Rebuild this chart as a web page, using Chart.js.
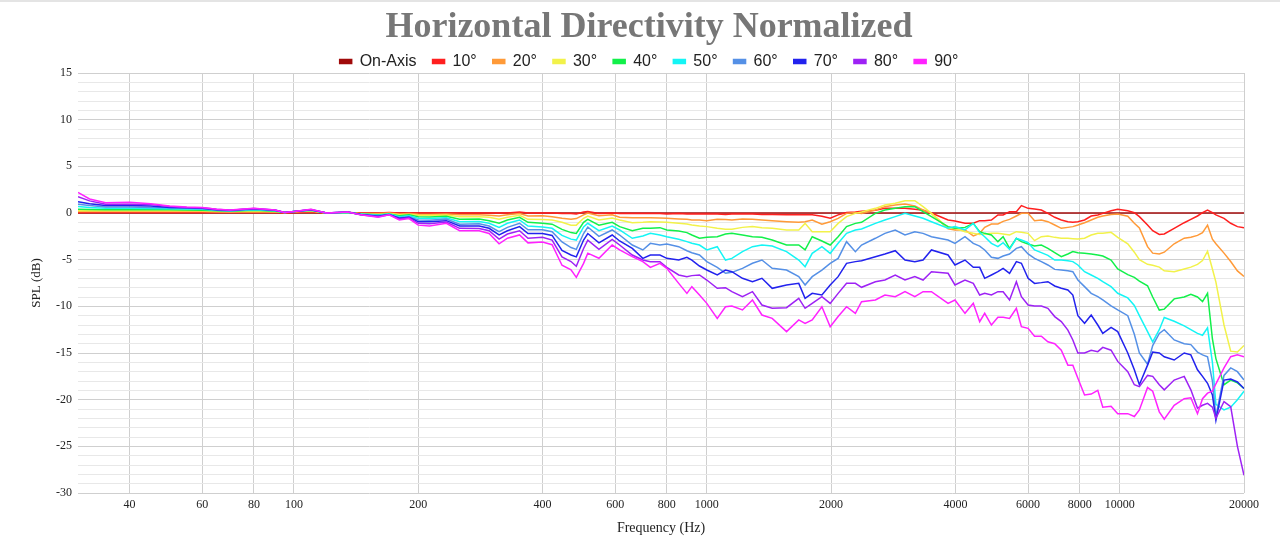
<!DOCTYPE html>
<html><head><meta charset="utf-8">
<script src="https://cdn.jsdelivr.net/npm/chart.js@4.4.1/dist/chart.umd.min.js"></script>
<style>
html,body{margin:0;padding:0;background:#fff;}
#wrap{position:relative;width:1280px;height:550px;}
#topline{position:absolute;left:0;top:0;width:1280px;height:2px;background:#e4e4e4;}
canvas{position:absolute;left:0;top:0;}
</style></head><body>
<div id="wrap"><canvas id="c" width="1280" height="550"></canvas><div id="topline"></div></div>
<script>
const freq = [
30,32,35,40,45,50,55,60,65,70,
80,90,95,100,110,120,135,145,160,170,
180,190,200,213,234,252,281,297,314,329,
352,369,400,422,446,469,483,503,515,548,
590,615,660,700,730,770,800,855,895,920,
960,1000,1060,1110,1150,1220,1290,1360,1440,1560,
1670,1730,1800,1900,1990,2080,2180,2290,2370,2560,
2700,2860,3020,3190,3340,3500,3840,3990,4220,4420,
4580,4710,4890,5070,5220,5410,5620,5780,6000,6220,
6460,6700,6960,7220,7490,7700,7920,8220,8530,8850,
9100,9530,9890,10460,10850,11160,11680,12020,12470,12820,
13550,14330,14870,15430,15870,16320,16770,17100,17890,18570,
19280,20000];

const onAxis = [
0,0,0,0,0,0,0,0,0,0, 0,0,0,0,0,0,0,0,0,0, 0,0,0,0,0,0,0,0,0,0,
0,0,0,0,0,0,0,0,0,0, 0,0,0,0,0,0,0,0,0,0, 0,0,0,0,0,0,0,0,0,0,
0,0,0,0,0,0,0,0,0,0, 0,0,0,0,0,0,0,0,0,0, 0,0,0,0,0,0,0,0,0,0,
0,0,0,0,0,0,0,0,0,0, 0,0,0,0,0,0,0,0,0,0, 0,0,0,0,0,0,0,0,0,0,
0,0];

const deg10 = [
0.05,0.05,0.05,0.05,0.05,0.05,0.05,0.05,0.05,0.05,
0.05,0.05,0.0,0.05,0.1,0.0,0.05,0.0,0.0,0.05,
0.0,0.0,0.0,0.0,0.0,0.0,0.0,0.0,0.0,0.0,
0.1,0.0,0.0,0.0,-0.05,-0.05,-0.1,0.1,0.15,-0.05,
0.0,-0.05,-0.05,-0.05,-0.05,-0.05,-0.1,-0.05,-0.1,-0.1,
-0.1,-0.1,-0.1,-0.15,-0.1,-0.1,-0.1,-0.15,-0.15,-0.2,
-0.2,-0.2,-0.2,-0.35,-0.55,-0.2,0.05,0.1,0.2,0.3,
0.5,0.5,0.5,0.4,0.3,0.0,-0.75,-0.86,-1.1,-1.1,
-0.82,-0.82,-0.75,-0.21,-0.21,0.14,0.14,0.79,0.5,0.43,
0.32,-0.04,-0.46,-0.75,-0.93,-1.0,-0.93,-0.75,-0.32,-0.21,
-0.04,0.25,0.39,0.25,0.04,-0.39,-1.29,-1.89,-2.29,-2.25,
-1.64,-1.04,-0.68,-0.32,0.04,0.32,0.04,-0.2,-0.57,-1.1,
-1.46,-1.57];

const deg20 = [
0.15,0.15,0.15,0.15,0.15,0.15,0.15,0.15,0.1,0.1,
0.15,0.1,0.05,0.1,0.2,0.0,0.05,-0.05,-0.05,0.0,
-0.1,-0.05,-0.14,-0.15,-0.1,-0.2,-0.2,-0.25,-0.32,-0.2,
-0.05,-0.32,-0.3,-0.4,-0.57,-0.68,-0.6,-0.2,0.0,-0.3,
-0.2,-0.46,-0.5,-0.5,-0.5,-0.54,-0.57,-0.64,-0.68,-0.75,
-0.75,-0.82,-0.68,-0.7,-0.75,-0.64,-0.68,-0.75,-0.82,-0.93,
-1.0,-0.93,-0.75,-1.21,-0.93,-0.57,-0.04,0.04,-0.04,0.32,
0.68,0.86,0.96,0.75,0.32,-0.04,-1.7,-1.82,-1.82,-2.46,
-2.18,-1.54,-1.18,-1.18,-0.9,-0.68,-0.32,-0.04,-0.04,-0.82,
-0.75,-0.93,-1.29,-1.64,-1.54,-1.46,-1.29,-1.04,-0.75,-0.46,
-0.32,-0.15,-0.11,-0.35,-1.1,-1.6,-3.6,-4.3,-4.4,-4.2,
-3.3,-2.7,-2.6,-2.4,-2.1,-1.3,-2.8,-3.3,-4.3,-5.2,
-6.2,-6.8];

const deg30 = [
0.25,0.25,0.25,0.25,0.25,0.25,0.25,0.25,0.2,0.15,
0.2,0.15,0.05,0.15,0.25,0.0,0.05,-0.1,-0.15,-0.05,
-0.2,-0.15,-0.25,-0.25,-0.22,-0.4,-0.4,-0.46,-0.68,-0.45,
-0.25,-0.68,-0.7,-0.75,-1.0,-1.3,-1.3,-0.57,-0.32,-0.75,
-0.54,-0.75,-1.04,-1.0,-0.93,-0.96,-1.0,-1.11,-1.18,-1.29,
-1.39,-1.46,-1.64,-1.75,-1.75,-1.54,-1.46,-1.57,-1.64,-1.82,
-1.82,-1.11,-2.0,-2.0,-2.0,-1.11,-0.39,-0.04,0.11,0.5,
0.86,1.04,1.32,1.32,0.68,-0.04,-1.6,-1.64,-2.0,-2.18,
-2.29,-2.25,-2.18,-2.18,-2.25,-2.36,-2.0,-2.07,-2.18,-2.96,
-2.54,-2.46,-2.61,-2.71,-2.71,-2.75,-2.79,-2.71,-2.36,-2.18,
-2.18,-2.07,-2.6,-3.3,-4.2,-5.0,-5.5,-5.6,-5.8,-6.2,
-6.3,-6.0,-5.8,-5.5,-5.1,-4.1,-6.0,-7.4,-12.0,-14.8,
-14.9,-14.2];

const deg40 = [
0.4,0.38,0.36,0.35,0.35,0.35,0.33,0.3,0.25,0.2,
0.3,0.2,0.05,0.15,0.3,0.0,0.05,-0.1,-0.2,-0.1,
-0.3,-0.2,-0.4,-0.42,-0.35,-0.68,-0.65,-0.82,-1.1,-0.75,
-0.46,-1.0,-1.1,-1.2,-1.75,-2.1,-2.2,-1.0,-0.68,-1.3,
-1.0,-1.46,-1.89,-1.64,-1.64,-1.57,-1.82,-1.93,-2.1,-2.36,
-2.71,-2.61,-2.54,-2.25,-2.18,-2.36,-2.54,-2.61,-2.89,-3.43,
-3.43,-3.96,-2.54,-3.0,-3.43,-2.54,-1.46,-1.11,-1.0,-0.04,
0.32,0.5,0.68,0.68,0.14,-0.39,-1.46,-1.64,-1.54,-1.11,
-2.0,-2.18,-2.36,-3.07,-2.54,-3.79,-2.71,-3.07,-3.32,-3.54,
-3.43,-3.79,-4.25,-4.68,-4.39,-4.14,-4.25,-4.32,-4.39,-4.5,
-4.61,-5.04,-6.0,-6.6,-6.9,-7.3,-7.8,-9.0,-10.4,-10.3,
-9.2,-9.0,-8.7,-9.0,-9.5,-8.6,-13.5,-15.6,-18.4,-17.9,
-18.2,-18.8];

const deg50 = [
0.7,0.6,0.5,0.5,0.48,0.45,0.42,0.4,0.3,0.25,
0.35,0.25,0.05,0.15,0.3,0.0,0.05,-0.12,-0.25,-0.12,
-0.4,-0.3,-0.57,-0.6,-0.5,-0.93,-0.9,-1.1,-1.54,-1.1,
-0.75,-1.4,-1.5,-1.64,-2.4,-2.8,-2.9,-1.5,-1.1,-1.9,
-1.39,-1.82,-2.71,-2.46,-2.18,-2.36,-2.54,-2.82,-3.07,-3.25,
-3.43,-3.96,-3.61,-5.04,-4.86,-4.14,-3.61,-3.43,-3.54,-4.14,
-5.04,-5.75,-4.32,-3.61,-4.32,-3.25,-2.18,-1.82,-1.71,-1.11,
-0.75,-0.39,-0.04,-0.32,-0.57,-0.93,-1.64,-1.46,-1.8,-1.11,
-2.1,-2.54,-3.25,-3.61,-3.18,-3.89,-2.71,-2.89,-3.18,-3.96,
-4.25,-4.54,-5.04,-5.04,-5.11,-5.21,-5.57,-6.29,-6.64,-7.0,
-7.36,-7.89,-8.6,-9.1,-9.9,-11.0,-12.7,-13.8,-12.5,-11.2,
-11.6,-12.1,-12.5,-12.9,-13.1,-12.3,-16.0,-20.5,-21.1,-20.8,
-20.0,-19.1];

const deg60 = [
0.95,0.8,0.64,0.65,0.6,0.55,0.5,0.45,0.3,0.25,
0.4,0.3,0.05,0.15,0.35,0.0,0.1,-0.15,-0.3,-0.15,
-0.5,-0.4,-0.75,-0.78,-0.65,-1.2,-1.15,-1.4,-2.0,-1.54,
-1.1,-1.8,-1.8,-2.0,-3.1,-3.7,-3.9,-2.2,-1.5,-2.5,
-1.82,-2.36,-3.43,-3.96,-3.25,-3.43,-3.32,-3.61,-4.04,-4.25,
-4.5,-5.21,-5.82,-6.46,-6.36,-5.93,-5.39,-5.04,-5.93,-6.11,
-6.82,-7.71,-6.82,-6.11,-5.39,-4.86,-3.07,-4.14,-3.43,-2.71,
-2.18,-1.82,-2.36,-2.0,-2.18,-2.54,-2.89,-3.25,-2.54,-3.25,
-3.54,-3.96,-4.75,-4.86,-4.61,-4.39,-3.79,-3.61,-4.39,-4.86,
-5.21,-5.57,-6.04,-6.11,-6.18,-6.29,-7.18,-7.89,-8.61,-8.96,
-9.32,-9.96,-10.39,-11.0,-13.0,-15.0,-16.2,-14.2,-12.9,-12.5,
-13.6,-14.0,-14.1,-14.9,-15.2,-15.4,-18.0,-21.8,-17.4,-16.6,
-17.0,-17.9];

const deg70 = [
1.2,1.0,0.8,0.8,0.75,0.6,0.55,0.5,0.35,0.3,
0.45,0.3,0.05,0.15,0.35,0.0,0.1,-0.15,-0.35,-0.15,
-0.55,-0.45,-0.93,-0.95,-0.82,-1.4,-1.4,-1.64,-2.35,-1.9,
-1.46,-2.2,-2.2,-2.4,-4.0,-4.5,-4.7,-2.9,-2.2,-3.2,
-2.36,-3.0,-3.79,-4.86,-4.5,-4.5,-4.86,-5.04,-4.75,-5.04,
-5.68,-6.11,-6.64,-6.11,-6.29,-7.0,-7.36,-7.0,-8.07,-7.71,
-7.54,-9.14,-8.61,-8.79,-7.71,-6.82,-5.39,-5.21,-5.11,-4.68,
-4.39,-4.04,-5.04,-5.21,-5.04,-3.96,-4.5,-5.57,-5.04,-5.82,
-5.82,-7.0,-6.64,-6.29,-5.93,-6.46,-5.21,-5.39,-7.0,-7.54,
-7.46,-7.36,-7.82,-8.07,-8.25,-8.79,-11.0,-11.82,-10.93,-12.0,
-12.89,-12.25,-12.71,-15.0,-16.8,-18.4,-16.3,-14.9,-15.0,-15.4,
-15.75,-15.0,-15.2,-16.8,-17.5,-18.25,-19.5,-22.2,-17.9,-17.8,
-18.1,-18.8];

const deg80 = [
1.75,1.3,0.93,0.95,0.9,0.7,0.6,0.55,0.4,0.3,
0.48,0.32,0.05,0.15,0.38,0.0,0.1,-0.18,-0.4,-0.18,
-0.65,-0.5,-1.1,-1.15,-0.96,-1.64,-1.65,-1.9,-2.8,-2.25,
-1.9,-2.7,-2.6,-2.9,-4.7,-5.2,-5.7,-3.8,-2.9,-3.9,
-2.82,-3.43,-4.5,-5.04,-5.21,-5.21,-5.82,-6.64,-6.82,-6.71,
-6.64,-7.18,-8.07,-8.0,-8.43,-8.96,-8.43,-9.86,-10.21,-10.14,
-9.14,-10.21,-9.68,-8.96,-9.68,-8.61,-7.54,-7.54,-7.96,-7.36,
-7.18,-6.64,-7.18,-6.82,-7.18,-6.29,-6.46,-7.71,-7.18,-7.54,
-8.79,-8.61,-8.79,-8.43,-8.43,-9.32,-7.36,-8.96,-9.86,-9.96,
-9.96,-10.21,-11.1,-11.64,-12.54,-13.6,-15.0,-15.0,-14.7,-14.86,
-14.4,-14.7,-15.9,-17.0,-18.4,-18.6,-17.4,-17.5,-18.4,-18.95,
-17.9,-17.5,-18.95,-20.9,-20.6,-20.4,-20.8,-22.0,-20.2,-20.75,
-25.0,-28.1];

const deg90 = [
2.2,1.5,1.1,1.15,1.0,0.75,0.65,0.6,0.4,0.32,
0.5,0.32,0.05,0.15,0.4,0.0,0.1,-0.2,-0.46,-0.2,
-0.75,-0.6,-1.3,-1.4,-1.1,-1.9,-1.9,-2.2,-3.3,-2.7,
-2.35,-3.2,-3.1,-3.4,-5.6,-6.1,-6.9,-5.4,-4.3,-4.85,
-3.43,-3.96,-4.68,-5.21,-5.82,-5.39,-5.93,-7.54,-8.61,-7.89,
-8.79,-9.68,-11.29,-10.04,-9.96,-10.39,-9.32,-10.93,-11.29,-12.71,
-11.46,-11.82,-11.46,-10.04,-12.18,-11.1,-10.04,-10.75,-9.5,-9.32,
-8.79,-8.96,-8.43,-8.96,-8.43,-8.43,-9.68,-9.32,-10.75,-9.68,
-11.64,-10.75,-12.0,-11.18,-11.18,-11.29,-10.21,-12.18,-12.36,-13.2,
-13.2,-13.8,-14.0,-14.7,-16.3,-16.3,-17.7,-19.5,-19.4,-19.0,
-20.8,-20.7,-21.5,-21.5,-21.8,-21.1,-18.7,-19.1,-21.3,-22.1,
-20.6,-19.9,-19.8,-21.5,-19.9,-19.3,-19.1,-18.3,-16.6,-15.4,
-15.2,-15.4];

const seriesNames = ['On-Axis','10°','20°','30°','40°','50°','60°','70°','80°','90°'];
const seriesColors = ['#a00a0a','#ff1f1f','#ff9a38','#f2f24a','#12f04a','#14f5f5','#5590e6','#2222ee','#9e22f5','#ff22ff'];
const seriesValues = [onAxis, deg10, deg20, deg30, deg40, deg50, deg60, deg70, deg80, deg90];
const xTickValues = [40,60,80,100,200,400,600,800,1000,2000,4000,6000,8000,10000,20000];

const serif = "'Liberation Serif', 'Times New Roman', serif";
const sans = "'Liberation Sans', Arial, sans-serif";

const datasets = seriesValues.map((vals, i) => ({
  label: seriesNames[i],
  data: freq.map((f, j) => ({x: f, y: vals[j]})),
  borderColor: seriesColors[i],
  backgroundColor: seriesColors[i],
  borderWidth: 1.5,
  pointRadius: 0,
  pointHoverRadius: 0,
  tension: 0,
  order: seriesValues.length - i
}));

new Chart(document.getElementById('c'), {
  type: 'line',
  data: { datasets },
  options: {
    responsive: false,
    animation: false,
    devicePixelRatio: 1,
    layout: { padding: { left: 18, right: 0, top: 0, bottom: 0 } },
    plugins: {
      title: {
        display: true,
        text: 'Horizontal Directivity Normalized',
        color: '#777777',
        font: { family: serif, size: 36, weight: 'bold', lineHeight: 0.55 },
        padding: { top: 17.6, bottom: 0 }
      },
      legend: {
        display: true,
        position: 'top',
        maxHeight: 35.6,
        labels: {
          color: '#222222',
          font: { family: sans, size: 16 },
          boxWidth: 12,
          boxHeight: 4,
          padding: 16,
          sort: (a, b) => a.datasetIndex - b.datasetIndex
        }
      },
      tooltip: { enabled: false }
    },
    scales: {
      x: {
        type: 'logarithmic',
        min: 30,
        max: 20000,
        afterBuildTicks: (s) => { s.ticks = xTickValues.map(v => ({ value: v })); },
        afterFit: (s) => { s.height = 57; },
        ticks: {
          autoSkip: false, maxRotation: 0, minRotation: 0, padding: 5,
          color: '#222222', font: { family: serif, size: 12 },
          callback: (v) => String(v)
        },
        grid: { color: '#cfcfcf', lineWidth: 1, drawTicks: false },
        border: { display: false },
        title: {
          display: true, text: 'Frequency (Hz)', color: '#222222',
          font: { family: serif, size: 14 },
          padding: { top: 0, bottom: 13 }
        }
      },
      y: {
        type: 'linear',
        min: -30,
        max: 15,
        afterFit: (s) => { s.width = 60; },
        ticks: {
          stepSize: 1, maxTicksLimit: 100, autoSkip: false, padding: 6,
          color: '#222222', font: { family: serif, size: 12 },
          callback: (v) => (v % 5 === 0 ? String(v) : '')
        },
        grid: {
          drawTicks: false, lineWidth: 1,
          color: (ctx) => (ctx.tick && ctx.tick.value % 5 === 0) ? '#cfcfcf' : '#e8e8e8'
        },
        border: { display: false },
        title: {
          display: true, text: 'SPL (dB)', color: '#222222',
          font: { family: serif, size: 13 },
          padding: { top: 11, bottom: 0 }
        }
      },
      y2: {
        position: 'right',
        display: true,
        afterFit: (s) => { s.width = 36; },
        grid: { display: false, drawTicks: false },
        ticks: { display: false },
        border: { display: false }
      }
    }
  }
});
</script>
</body></html>
